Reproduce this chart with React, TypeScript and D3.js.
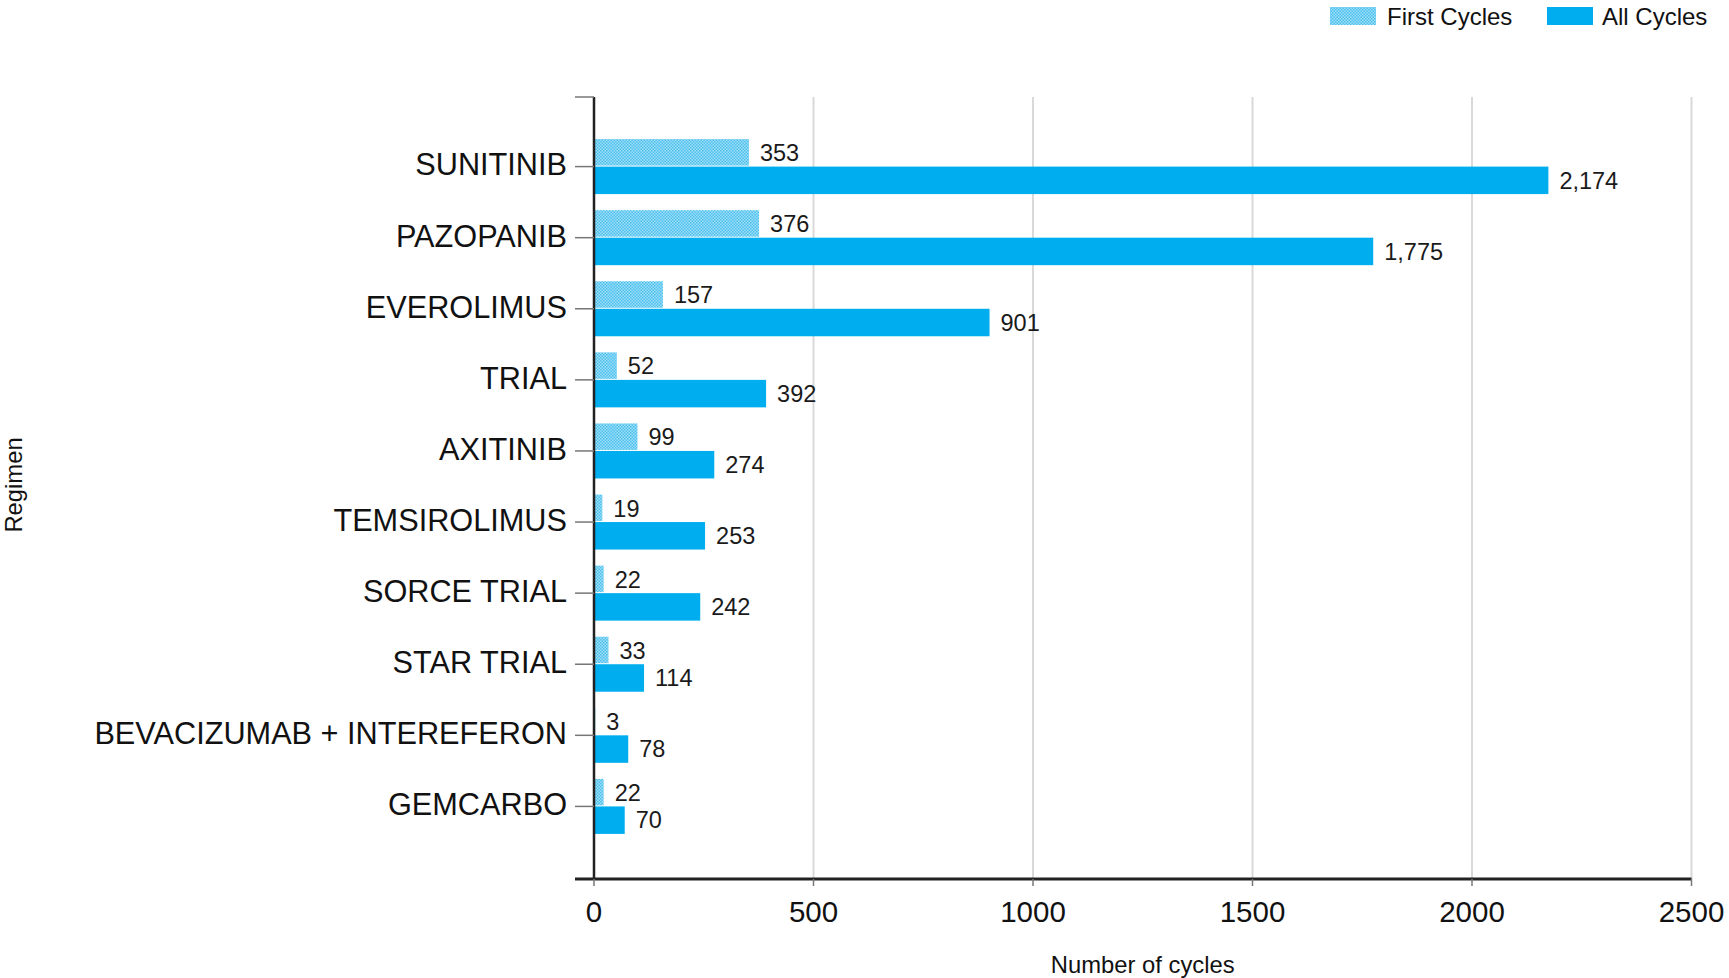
import React from "react";
import * as d3 from "d3";

const categories = [
  "SUNITINIB",
  "PAZOPANIB",
  "EVEROLIMUS",
  "TRIAL",
  "AXITINIB",
  "TEMSIROLIMUS",
  "SORCE TRIAL",
  "STAR TRIAL",
  "BEVACIZUMAB + INTEREFERON",
  "GEMCARBO",
];
const firstCycles = [353, 376, 157, 52, 99, 19, 22, 33, 3, 22];
const allCycles = [2174, 1775, 901, 392, 274, 253, 242, 114, 78, 70];
const xTicks = [0, 500, 1000, 1500, 2000, 2500];
const seriesNames = ["First Cycles", "All Cycles"];

const W = 1729;
const H = 978;
const left = 594;
const right = 1691.5;
const top = 97;
const bottom = 879;
const FONT = "'Liberation Sans', Arial, sans-serif";
const BLUE = "#00AEEF";

export default function App() {
  const x = d3.scaleLinear().domain([0, 2500]).range([left, right]);
  const y = d3
    .scalePoint<string>()
    .domain(categories)
    .range([top - 1.5, bottom - 1.5])
    .padding(1);
  const barH = 27.5;
  const sub = d3.scaleBand<string>().domain(seriesNames).range([-barH, barH]).padding(0);
  const fmt = d3.format(",");

  return (
    <svg
      width={W}
      height={H}
      style={{ position: "absolute", left: 0, top: 0, background: "#fff" }}
      fontFamily={FONT}
    >
      <defs>
        <pattern id="firstPat" width="3" height="3" patternUnits="userSpaceOnUse">
          <rect width="3" height="3" fill="#9fdcf5" />
          <rect x="0" y="0" width="1.5" height="1.5" fill="#4cc2ef" />
          <rect x="1.5" y="1.5" width="1.5" height="1.5" fill="#4cc2ef" />
        </pattern>
      </defs>
      <rect width={W} height={H} fill="#fff" />

      {/* gridlines */}
      {xTicks.map((t) => (
        <line
          key={"g" + t}
          x1={x(t)}
          x2={x(t)}
          y1={top}
          y2={bottom}
          stroke="#d9d9d9"
          strokeWidth={2}
        />
      ))}

      {/* bars */}
      {categories.map((c, i) => {
        const cy = y(c)!;
        return (
          <g key={c}>
            <rect
              x={x(0)}
              y={cy + sub("First Cycles")!}
              width={x(firstCycles[i]) - x(0)}
              height={sub.bandwidth() - 1}
              fill="url(#firstPat)"
            />
            <rect
              x={x(0)}
              y={cy + sub("All Cycles")!}
              width={x(allCycles[i]) - x(0)}
              height={sub.bandwidth()}
              fill={BLUE}
            />
            <text
              x={x(firstCycles[i]) + 11}
              y={cy + sub("First Cycles")! + sub.bandwidth() / 2}
              dy="0.35em"
              fontSize={23.5}
              fill="#1a1a1a"
            >
              {fmt(firstCycles[i])}
            </text>
            <text
              x={x(allCycles[i]) + 11}
              y={cy + sub("All Cycles")! + sub.bandwidth() / 2}
              dy="0.35em"
              fontSize={23.5}
              fill="#1a1a1a"
            >
              {fmt(allCycles[i])}
            </text>
          </g>
        );
      })}

      {/* y axis */}
      <line x1={left} x2={left} y1={top} y2={bottom} stroke="#222" strokeWidth={2.5} />
      {[top, ...categories.map((c) => y(c)!), bottom].map((yy, i) => (
        <line key={"yt" + i} x1={left - 19} x2={left} y1={yy} y2={yy} stroke="#777" strokeWidth={1.5} />
      ))}
      {categories.map((c) => (
        <text
          key={"yl" + c}
          x={left - 27}
          y={y(c)!}
          dy="0.29em"
          textAnchor="end"
          fontSize={30.7}
          fill="#111"
        >
          {c}
        </text>
      ))}

      {/* x axis */}
      <line x1={left - 19} x2={right} y1={bottom} y2={bottom} stroke="#222" strokeWidth={3} />
      {xTicks.map((t) => (
        <g key={"xt" + t}>
          <line x1={x(t)} x2={x(t)} y1={bottom} y2={bottom + 7} stroke="#777" strokeWidth={1.5} />
          <text x={x(t)} y={912} dy="0.35em" textAnchor="middle" fontSize={29.5} fill="#111">
            {t}
          </text>
        </g>
      ))}

      {/* axis titles */}
      <text x={(left + right) / 2} y={965} dy="0.35em" textAnchor="middle" fontSize={23.8} fill="#111">
        Number of cycles
      </text>
      <text
        transform={`translate(14,485) rotate(-90)`}
        dy="0.35em"
        textAnchor="middle"
        fontSize={23.8}
        fill="#111"
      >
        Regimen
      </text>

      {/* legend */}
      <rect x={1330} y={7} width={46} height={18} fill="url(#firstPat)" />
      <text x={1387} y={16.5} dy="0.35em" fontSize={24} fill="#111">
        First Cycles
      </text>
      <rect x={1547} y={7} width={46} height={18} fill={BLUE} />
      <text x={1602} y={16.5} dy="0.35em" fontSize={24} fill="#111">
        All Cycles
      </text>
    </svg>
  );
}
